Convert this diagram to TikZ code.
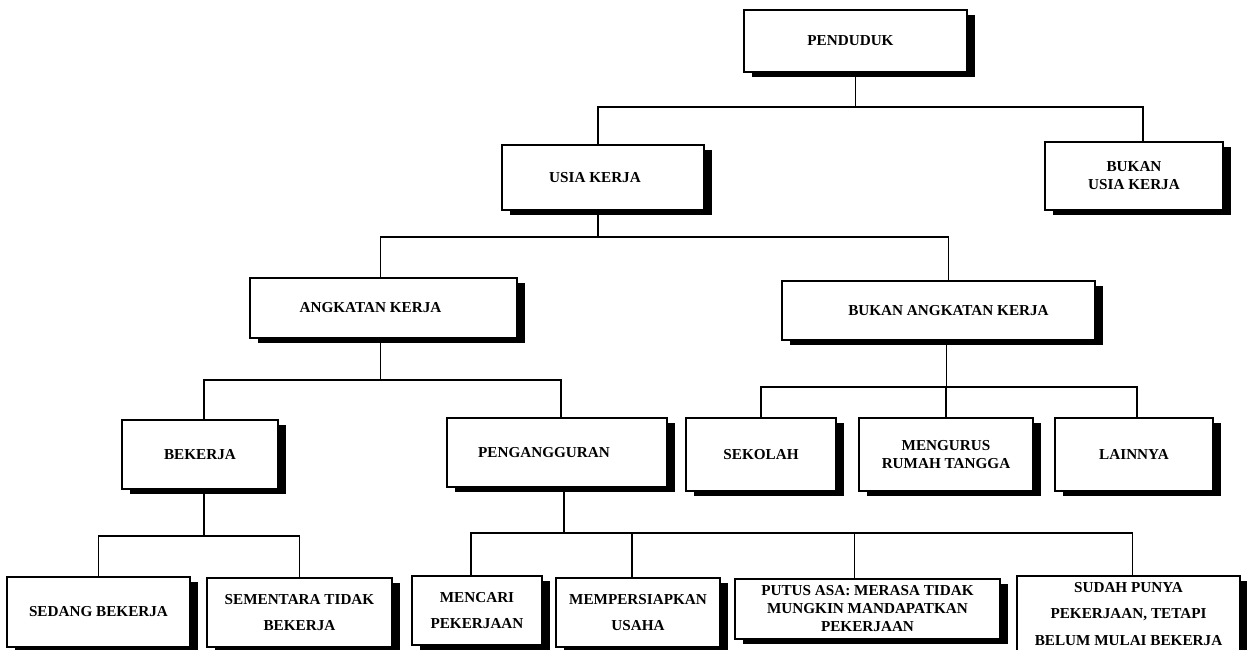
\documentclass[tikz,border=0pt]{standalone}
\usepackage{fontspec}
\setmainfont{Liberation Serif}
\usepackage{tikz}
\usetikzlibrary{positioning,shadows}
\tikzset{
  box/.style={draw=black,fill=white,line width=1.6pt,align=center,inner sep=0pt,
    font=\bfseries\fontsize{15.2}{18}\selectfont,
    drop shadow={shadow xshift=8pt,shadow yshift=-5pt,opacity=1,fill=black}},
  boxw/.style={box,font=\bfseries\fontsize{15.2}{26.5}\selectfont},
  conn/.style={line width=1.3pt,color=black},
}

\begin{document}
\begin{tikzpicture}[x=1pt,y=-1pt]
\useasboundingbox (0,0) rectangle (1247,650);
% top
\node[box,minimum width=223,minimum height=62] (pend) at (855.5,41) {PENDUDUK\hspace*{10pt}};
\node[box,minimum width=202,minimum height=65] (usia) at (603,177.5) {USIA KERJA\hspace*{16pt}};
\node[box,minimum width=178,minimum height=68] (busia) at (1134,176) {BUKAN\\USIA KERJA};
\coordinate (j1) at (857,107);
\draw[conn] (pend.south) -- (pend.south |- j1);
\draw[conn] ([xshift=-5pt]usia.north) |- (j1) -| ([xshift=9pt]busia.north);
% usia kerja
\node[box,minimum width=267,minimum height=60] (ak) at (383.5,308) {ANGKATAN KERJA\hspace*{26pt}};
\node[box,minimum width=313,minimum height=59] (bak) at (938.5,310.5) {\hspace*{20pt}BUKAN ANGKATAN KERJA};
\coordinate (j2) at (598,237);
\draw[conn] ([xshift=-5pt]usia.south) -- ([xshift=-5pt]usia.south |- j2);
\draw[conn] ([xshift=-3pt]ak.north) |- (j2) -| ([xshift=10pt]bak.north);
% angkatan kerja
\node[box,minimum width=156,minimum height=69] (bek) at (200,454.5) {BEKERJA};
\node[box,minimum width=220,minimum height=69] (peng) at (557,452.5) {PENGANGGURAN\hspace*{26pt}};
\coordinate (j3) at (380,380);
\draw[conn] ([xshift=-3pt]ak.south) -- ([xshift=-3pt]ak.south |- j3);
\draw[conn] ([xshift=4pt]bek.north) |- (j3) -| ([xshift=4pt]peng.north);
% bukan angkatan kerja
\node[box,minimum width=150,minimum height=73] (sek) at (761,454.5) {SEKOLAH};
\node[box,minimum width=174,minimum height=73] (meng) at (946,454.5) {MENGURUS\\RUMAH TANGGA};
\node[box,minimum width=158,minimum height=73] (lain) at (1134,454.5) {LAINNYA};
\coordinate (j4) at (946,387);
\draw[conn] ([xshift=8pt]bak.south) -- ([xshift=8pt]bak.south |- j4);
\draw[conn] (sek.north) |- (j4) -| ([xshift=3pt]lain.north);
\draw[conn] (meng.north) -- (meng.north |- j4);
% bekerja
\node[box,minimum width=183,minimum height=70] (sedang) at (98.5,612) {SEDANG BEKERJA};
\node[boxw,minimum width=185,minimum height=69] (sement) at (299.5,612.5) {SEMENTARA TIDAK\\BEKERJA};
\coordinate (j5) at (204,536);
\draw[conn] ([xshift=4pt]bek.south) -- ([xshift=4pt]bek.south |- j5);
\draw[conn] (sedang.north) |- (j5) -| (sement.north);
% pengangguran
\node[boxw,minimum width=130,minimum height=69] (cari) at (477,610.5) {MENCARI\\PEKERJAAN};
\node[boxw,minimum width=164,minimum height=69] (siap) at (638,612.5) {MEMPERSIAPKAN\\USAHA};
\node[box,minimum width=265,minimum height=60] (putus) at (867.5,609) {PUTUS ASA: MERASA TIDAK\\MUNGKIN MANDAPATKAN\\PEKERJAAN};
\node[boxw,minimum width=223,minimum height=76] (sudah) at (1128.5,614) {SUDAH PUNYA\\PEKERJAAN, TETAPI\\BELUM MULAI BEKERJA};
\coordinate (j6) at (564,533);
\draw[conn] ([xshift=7pt]peng.south) -- ([xshift=7pt]peng.south |- j6);
\draw[conn] ([xshift=-6pt]cari.north) |- (j6) -| ([xshift=4pt]sudah.north);
\draw[conn] ([xshift=-6pt]siap.north) -- ([xshift=-6pt]siap.north |- j6);
\draw[conn] ([xshift=-13pt]putus.north) -- ([xshift=-13pt]putus.north |- j6);
\end{tikzpicture}
\end{document}
